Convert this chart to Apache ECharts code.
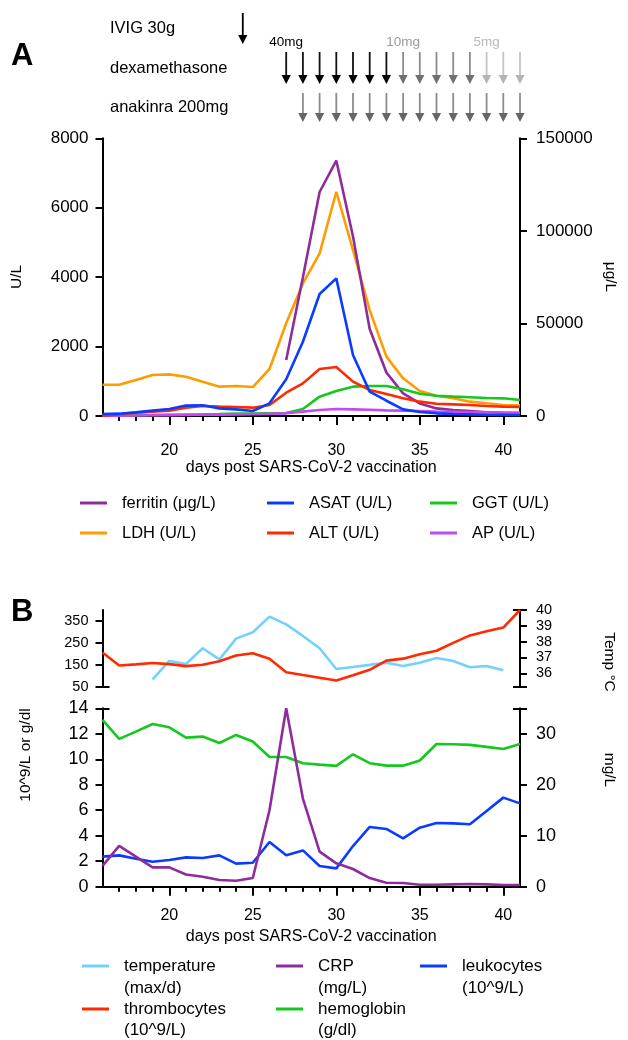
<!DOCTYPE html>
<html><head><meta charset="utf-8">
<script src="https://cdn.jsdelivr.net/npm/echarts@6/dist/echarts.min.js"></script>
<style>html,body{margin:0;padding:0;background:#fff}#c{width:628px;height:1040px}</style>
</head><body><div id="c"></div>
<script>
// ---------- data ----------
const days = [16,17,18,19,20,21,22,23,24,25,26,27,28,29,30,31,32,33,34,35,36,37,38,39,40,41];
// Panel A (U/L unless noted)
const ferritin = [null,null,null,null,null,null,null,null,null,null,null,30240,75000,121000,138000,97000,47000,23500,12200,6800,4100,3200,2700,2000,1600,1400];
const ldh  = [900,900,1040,1180,1200,1130,990,845,864,835,1354,2670,3820,4685,6460,4780,3050,1710,1085,720,585,510,413,365,317,307];
const asat = [58,67,105,154,200,300,307,220,190,144,365,1056,2140,3514,3965,1757,700,440,190,115,77,58,48,38,30,30];
const alt  = [10,48,96,125,154,240,288,270,260,240,317,672,940,1354,1411,990,750,634,510,413,355,336,317,288,270,260];
const ggt  = [10,10,20,30,38,45,48,55,67,67,77,86,200,557,720,845,864,864,768,643,585,557,538,518,509,460];
const ap   = [5,10,15,20,25,30,35,40,45,50,60,77,125,173,200,190,180,163,154,144,130,120,110,105,100,96];
// Panel B
const temperature = [null,null,null,35.62,36.78,36.59,37.58,36.88,38.19,38.59,39.58,39.09,38.36,37.58,36.27,36.4,36.53,36.67,36.46,36.67,36.97,36.78,36.38,36.46,36.19,null];
const thrombocytes = [206,147,152,158,153,144,150,166,192,203,178,116,103,91,78,102,127,169,178,198,214,250,284,303,320,400];
const crp = [4.1,8.0,5.9,3.8,3.8,2.4,1.96,1.3,1.18,1.7,15.0,35,17.3,6.87,4.58,3.47,1.7,0.78,0.72,0.39,0.39,0.46,0.52,0.46,0.33,0.33];
const hemoglobin = [13.09,11.6,12.17,12.77,12.51,11.7,11.78,11.28,11.91,11.39,10.18,10.18,9.69,9.58,9.48,10.39,9.69,9.5,9.5,9.9,11.2,11.18,11.13,10.97,10.81,11.2];
const leukocytes = [2.36,2.46,2.2,1.96,2.09,2.3,2.25,2.46,1.81,1.88,3.51,2.46,2.85,1.62,1.44,3.19,4.69,4.53,3.8,4.63,5.0,4.97,4.9,5.94,6.99,6.54];
// treatments
const ivigDays = [24.4];
const dexaDays = [27,28,29,30,31,32,33,34,35,36,37,38,39,40,41];
const dexaDoses = [40,40,40,40,40,40,40,10,10,10,10,10,5,5,5];
const anakinraDays = [28,29,30,31,32,33,34,35,36,37,38,39,40,41];
const doseLabelDays = [27,34,39];
const doseLabels = ['40mg','10mg','5mg'];
// ticks
const xMajorTicks = [20,25,30,35,40];
const xMinorTicks = [17,18,19,21,22,23,24,26,27,28,29,31,32,33,34,36,37,38,39];
const bTopLeftTicks = [50,150,250,350];
const bTopRightTicks = [36,37,38,39,40];
const bBotRightTicks = [0,10,20,30];

// ---------- helpers ----------
const FONT = 'Liberation Sans, Arial, sans-serif';
const pairs = arr => days.map((d,i)=>[d, arr[i]]);
const plain = v => String(v);
const C = {purple:'#8E2C9C', orange:'#FF9C00', blue:'#0A3CFF', red:'#FF2A00', green:'#14C81C', lilac:'#C24BF0', sky:'#74D0FF'};
const axLine = {show:true, onZero:false, lineStyle:{color:'#000', width:2}};
function yAxis(o){
  return Object.assign({type:'value', splitLine:{show:false}, axisLine:axLine,
    axisTick:Object.assign({show:true, length:7, lineStyle:{color:'#000', width:2}}, o.tick||{}),
    axisLabel:Object.assign({color:'#000', fontSize:17, fontFamily:FONT, margin:14, formatter:plain}, o.label||{})}, o.base);
}
function capAxis(gridIndex, min, max, position, vals){
  return {type:'value', gridIndex, min, max, position, splitLine:{show:false}, axisLine:{show:false},
    axisLabel:{show:false}, axisTick:{show:true, inside:true, length:7, customValues:vals, lineStyle:{color:'#000', width:2}}};
}
function xMain(gridIndex, labelMargin, name, nameGap){
  return {type:'value', gridIndex, position:'bottom', min:16, max:41, splitLine:{show:false}, axisLine:axLine,
    axisTick:{show:true, length:9, customValues:xMajorTicks, lineStyle:{color:'#000', width:2}},
    axisLabel:{customValues:xMajorTicks, color:'#000', fontSize:16, fontFamily:FONT, margin:labelMargin, formatter:plain},
    name, nameLocation:'middle', nameGap, nameTextStyle:{color:'#000', fontSize:16, fontFamily:FONT}};
}
function xMinor(gridIndex){
  return {type:'value', gridIndex, position:'bottom', min:16, max:41, splitLine:{show:false}, axisLine:{show:false, onZero:false},
    axisTick:{show:true, length:5, customValues:xMinorTicks, lineStyle:{color:'#000', width:2}}, axisLabel:{show:false}};
}
function line(name, data, color, xi, yi, z){
  return {type:'line', name, data:pairs(data), xAxisIndex:xi, yAxisIndex:yi, showSymbol:false, symbol:'none',
    connectNulls:false, lineStyle:{color, width:2.6}, itemStyle:{color}, z:z||2, silent:true};
}

// treatment arrows (custom series)
const ROWS = {ivig:[13,44], dexa:[52,84], anak:[93,122]};
function doseColor(d){ return d===40 ? ['#111','#000'] : d===10 ? ['#8c8c8c','#707070'] : ['#c4c4c4','#b4b4b4']; }
const arrowData = [];
ivigDays.forEach(d=>arrowData.push([d,'ivig',40]));
dexaDays.forEach((d,i)=>arrowData.push([d,'dexa',dexaDoses[i]]));
anakinraDays.forEach(d=>arrowData.push([d,'anak',10]));

function legend(data, left, top, itemGap, fontSize){
  return {data, left, top, orient:'vertical', itemGap, icon:'rect', itemWidth:27, itemHeight:3, padding:0, selectedMode:false,
    textStyle:{color:'#000', fontSize, lineHeight:18, fontFamily:FONT, padding:[0,0,0,10]}};
}

const option = {
  animation:false,
  backgroundColor:'#fff',
  textStyle:{fontFamily:FONT},
  grid:[
    {left:102.5, top:138.3, width:417.5, height:277.7},
    {left:102.5, top:610, width:417.5, height:76.7},
    {left:102.5, top:708.3, width:417.5, height:178.4},
    {left:102.5, top:0, width:417.5, height:130}
  ],
  xAxis:[
    xMain(0, 27, 'days post SARS-CoV-2 vaccination', 43),
    xMinor(0),
    {type:'value', gridIndex:1, min:16, max:41, show:false},
    xMain(2, 21, 'days post SARS-CoV-2 vaccination', 42),
    xMinor(2),
    {type:'value', gridIndex:3, min:16, max:41, show:false}
  ],
  yAxis:[
    yAxis({base:{gridIndex:0, min:0, max:8000, interval:2000, position:'left'}}),
    yAxis({base:{gridIndex:0, min:0, max:150000, interval:50000, position:'right'}, label:{margin:16}}),
    yAxis({base:{gridIndex:1, min:50, max:400, position:'left'}, tick:{customValues:bTopLeftTicks}, label:{customValues:bTopLeftTicks, fontSize:14.5}}),
    capAxis(1, 50, 400, 'left', [50]),
    yAxis({base:{gridIndex:1, min:35.15, max:40, position:'right'}, tick:{customValues:[35.15].concat(bTopRightTicks)}, label:{customValues:bTopRightTicks, fontSize:14.5, margin:16}}),
    capAxis(1, 35.15, 40, 'right', [35.15, 40]),
    yAxis({base:{gridIndex:2, min:0, max:14, interval:2, position:'left'}, label:{fontSize:18}}),
    capAxis(2, 0, 14, 'left', [14]),
    yAxis({base:{gridIndex:2, min:0, max:35, position:'right'}, tick:{customValues:bBotRightTicks.concat([35])}, label:{customValues:bBotRightTicks, fontSize:18, margin:16}}),
    capAxis(2, 0, 35, 'right', [35]),
    {type:'value', gridIndex:3, min:0, max:130, inverse:true, show:false}
  ],
  legend:[
    legend(['ferritin (μg/L)','LDH (U/L)'], 80, 494, 12, 16.5),
    legend(['ASAT (U/L)','ALT (U/L)'], 267, 494, 12, 16.5),
    legend(['GGT (U/L)','AP (U/L)'], 430, 494, 12, 16.5),
    legend(['temperature','thrombocytes'], 82, 957, 25, 17),
    legend(['CRP','hemoglobin'], 276, 957, 25, 17),
    legend(['leukocytes'], 420, 957, 25, 17)
  ],
  graphic:[
    {type:'text', left:11, top:41, style:{text:'A', font:'bold 31px Liberation Sans, Arial', fill:'#000'}},
    {type:'text', left:11, top:597, style:{text:'B', font:'bold 31px Liberation Sans, Arial', fill:'#000'}},
    {type:'text', x:110, y:28, style:{text:'IVIG 30g', font:'16.5px Liberation Sans, Arial', fill:'#000', verticalAlign:'middle'}},
    {type:'text', x:110, y:68, style:{text:'dexamethasone', font:'16.5px Liberation Sans, Arial', fill:'#000', verticalAlign:'middle'}},
    {type:'text', x:110, y:107, style:{text:'anakinra 200mg', font:'16.5px Liberation Sans, Arial', fill:'#000', verticalAlign:'middle'}},
    {type:'text', x:17, y:277, rotation:Math.PI/2, style:{text:'U/L', font:'15.5px Liberation Sans, Arial', fill:'#000', align:'center', verticalAlign:'middle'}},
    {type:'text', x:610, y:277, rotation:-Math.PI/2, style:{text:'μg/L', font:'15.5px Liberation Sans, Arial', fill:'#000', align:'center', verticalAlign:'middle'}},
    {type:'text', x:26, y:755, rotation:Math.PI/2, style:{text:'10^9/L or g/dl', font:'15.5px Liberation Sans, Arial', fill:'#000', align:'center', verticalAlign:'middle'}},
    {type:'text', x:609, y:662, rotation:-Math.PI/2, style:{text:'Temp °C', font:'15.5px Liberation Sans, Arial', fill:'#000', align:'center', verticalAlign:'middle'}},
    {type:'text', x:609, y:770, rotation:-Math.PI/2, style:{text:'mg/L', font:'15.5px Liberation Sans, Arial', fill:'#000', align:'center', verticalAlign:'middle'}},
    {type:'text', x:124, y:988, style:{text:'(max/d)', font:'17px Liberation Sans, Arial', fill:'#000', verticalAlign:'middle'}},
    {type:'text', x:124, y:1030, style:{text:'(10^9/L)', font:'17px Liberation Sans, Arial', fill:'#000', verticalAlign:'middle'}},
    {type:'text', x:318, y:988, style:{text:'(mg/L)', font:'17px Liberation Sans, Arial', fill:'#000', verticalAlign:'middle'}},
    {type:'text', x:318, y:1030, style:{text:'(g/dl)', font:'17px Liberation Sans, Arial', fill:'#000', verticalAlign:'middle'}},
    {type:'text', x:462, y:988, style:{text:'(10^9/L)', font:'17px Liberation Sans, Arial', fill:'#000', verticalAlign:'middle'}}
  ],
  series:[
    line('LDH (U/L)', ldh, C.orange, 0, 0, 2),
    line('ferritin (μg/L)', ferritin, C.purple, 0, 1, 3),
    line('GGT (U/L)', ggt, C.green, 0, 0, 4),
    line('AP (U/L)', ap, C.lilac, 0, 0, 4),
    line('ALT (U/L)', alt, C.red, 0, 0, 5),
    line('ASAT (U/L)', asat, C.blue, 0, 0, 6),
    line('temperature', temperature, C.sky, 2, 4, 2),
    line('thrombocytes', thrombocytes, C.red, 2, 2, 3),
    line('hemoglobin', hemoglobin, C.green, 3, 6, 2),
    line('leukocytes', leukocytes, C.blue, 3, 6, 3),
    line('CRP', crp, C.purple, 3, 8, 4),
    {type:'custom', xAxisIndex:5, yAxisIndex:10, silent:true, data:arrowData,
      encode:{x:0},
      renderItem:function(params, api){
        const item = arrowData[params.dataIndex];
        const r = ROWS[item[1]];
        const p0 = api.coord([item[0], r[0]]), p1 = api.coord([item[0], r[1]]);
        const x = p0[0], head = 9, hw = 4.6;
        let cols = item[1]==='anak' ? ['#8c8c8c','#666'] : doseColor(item[2]);
        if (item[1]==='ivig') cols = ['#000','#000'];
        return {type:'group', children:[
          {type:'line', shape:{x1:x, y1:p0[1], x2:x, y2:p1[1]-head+1}, style:{stroke:cols[0], lineWidth:1.8}},
          {type:'polygon', shape:{points:[[x-hw,p1[1]-head],[x+hw,p1[1]-head],[x,p1[1]]]}, style:{fill:cols[1]}}
        ]};
      }
    },
    {type:'custom', xAxisIndex:5, yAxisIndex:10, silent:true, data:doseLabelDays.map((d,i)=>[d,i]),
      encode:{x:0},
      renderItem:function(params, api){
        const i = params.dataIndex;
        const p = api.coord([doseLabelDays[i], 42]);
        const fills = ['#000','#9a9a9a','#b8b8b8'];
        return {type:'text', x:p[0], y:p[1], style:{text:doseLabels[i], fill:fills[i], font:'13.5px Liberation Sans, Arial', align:'center', verticalAlign:'middle'}};
      }
    }
  ]
};
const chart = echarts.init(document.getElementById('c'), null, {renderer:'canvas'});
chart.setOption(option);
</script></body></html>
